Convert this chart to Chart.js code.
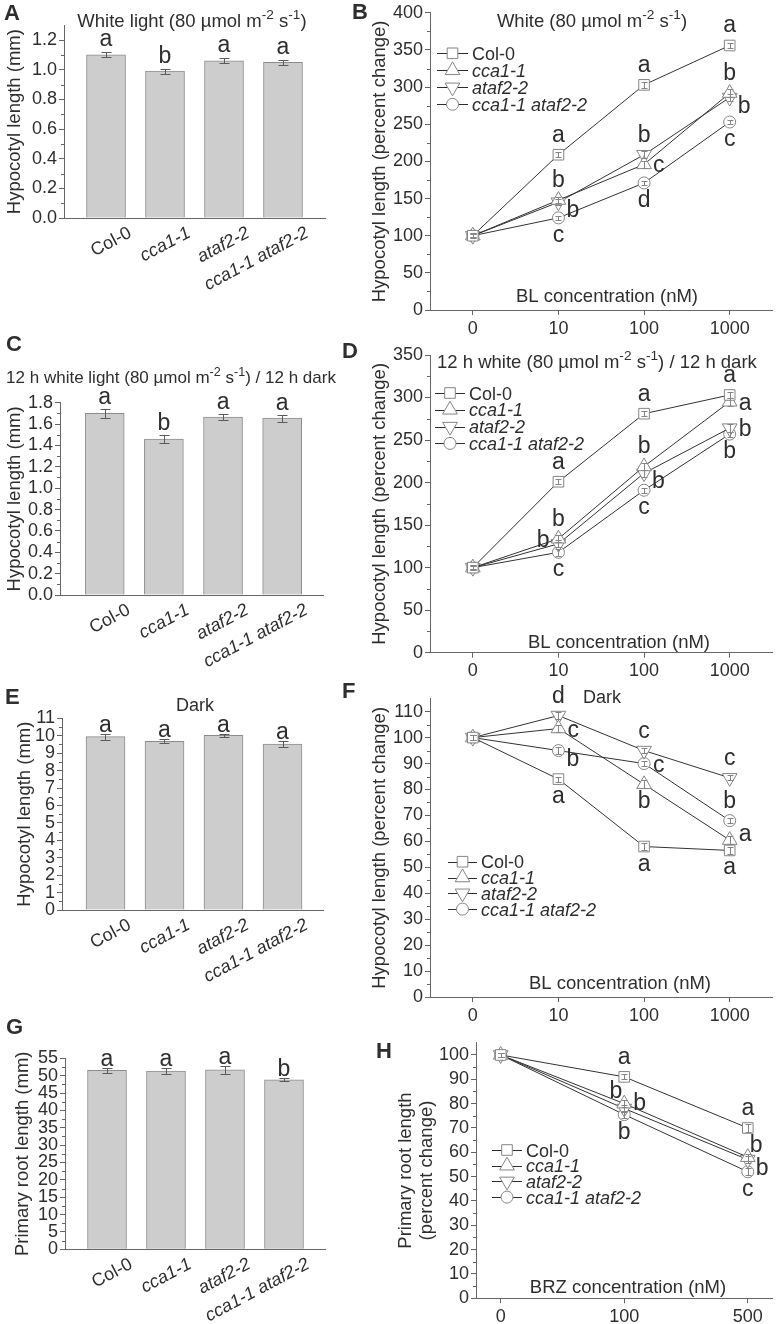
<!DOCTYPE html>
<html>
<head>
<meta charset="utf-8">
<script src="https://cdn.jsdelivr.net/npm/chart.js@4.4.1/dist/chart.umd.min.js"></script>
<style>
  html, body { margin: 0; padding: 0; background: #fff; }
  #fig { position: relative; width: 782px; height: 1324px; overflow: hidden; }
  #fig canvas { position: absolute; }
</style>
</head>
<body>
<div id="fig"></div>
<script>
/* Hypocotyl / root length panels A-H, drawn with Chart.js */

// ---- data ----
const genotypes = ['Col-0', 'cca1-1', 'ataf2-2', 'cca1-1 ataf2-2'];
const blDoses = ['0', '10', '100', '1000'];
const brzDoses = ['0', '100', '500'];

// A: white light, mm
const hypWhite = [1.10, 0.99, 1.06, 1.05];
const hypWhiteErr = [0.017, 0.016, 0.018, 0.015];
const hypWhiteSig = ['a', 'b', 'a', 'a'];
const ticksA = [0, 0.2, 0.4, 0.6, 0.8, 1.0, 1.2];
const minorA = [0.1, 0.3, 0.5, 0.7, 0.9, 1.1];

// C: 12 h light / 12 h dark, mm
const hypCycle = [1.70, 1.46, 1.665, 1.655];
const hypCycleErr = [0.042, 0.035, 0.03, 0.032];
const hypCycleSig = ['a', 'b', 'a', 'a'];
const ticksC = [0, 0.2, 0.4, 0.6, 0.8, 1.0, 1.2, 1.4, 1.6, 1.8];
const minorC = [0.1, 0.3, 0.5, 0.7, 0.9, 1.1, 1.3, 1.5, 1.7];

// E: dark, mm
const hypDark = [9.95, 9.68, 10.02, 9.52];
const hypDarkErr = [0.17, 0.12, 0.08, 0.18];
const hypDarkSig = ['a', 'a', 'a', 'a'];
const ticksE = [0, 1, 2, 3, 4, 5, 6, 7, 8, 9, 10, 11];
const minorE = [0.5, 1.5, 2.5, 3.5, 4.5, 5.5, 6.5, 7.5, 8.5, 9.5, 10.5];

// G: primary root, mm
const rootLen = [51.5, 51.3, 51.7, 48.8];
const rootLenErr = [0.7, 0.8, 1.1, 0.45];
const rootLenSig = ['a', 'a', 'a', 'b'];
const ticksG = [0, 5, 10, 15, 20, 25, 30, 35, 40, 45, 50, 55];
const minorG = [2.5, 7.5, 12.5, 17.5, 22.5, 27.5, 32.5, 37.5, 42.5, 47.5, 52.5];

// B: BL, white light (% change)
const blWhiteCol = [100, 209, 303, 356];
const blWhiteCca = [100, 148, 196, 292];
const blWhiteAtaf = [100, 145, 209, 286];
const blWhiteDbl = [100, 124, 171, 253];
const blWhiteColErr = [2, 3, 4, 4];
const blWhiteCcaErr = [3, 4, 5, 5];
const blWhiteAtafErr = [3, 4, 5, 5];
const blWhiteDblErr = [2, 3, 3, 3];
const blWhiteColSig = ['', 'a', 'a', 'a'];
const blWhiteCcaSig = ['', 'b', 'c', 'b'];
const blWhiteAtafSig = ['', 'b', 'b', 'b'];
const blWhiteDblSig = ['', 'c', 'd', 'c'];
const ticksB = [0, 50, 100, 150, 200, 250, 300, 350, 400];
const minorB = [25, 75, 125, 175, 225, 275, 325, 375];

// D: BL, 12 h light / 12 h dark (% change)
const blCycleCol = [100, 201, 281, 303];
const blCycleCca = [100, 134, 219, 295];
const blCycleAtaf = [100, 128, 211, 264];
const blCycleDbl = [100, 118, 191, 257];
const blCycleColErr = [2, 3, 3, 4];
const blCycleCcaErr = [3, 4, 4, 5];
const blCycleAtafErr = [3, 4, 4, 5];
const blCycleDblErr = [2, 4, 3, 3];
const blCycleColSig = ['', 'a', 'a', 'a'];
const blCycleCcaSig = ['', 'b', 'b', 'a'];
const blCycleAtafSig = ['', 'b', 'b', 'b'];
const blCycleDblSig = ['', 'c', 'c', 'b'];
const ticksD = [0, 50, 100, 150, 200, 250, 300, 350];
const minorD = [25, 75, 125, 175, 225, 275, 325];

// F: BL, dark (% change)
const blDarkCol = [100, 84, 58, 56.5];
const blDarkCca = [100, 103.5, 82, 60.5];
const blDarkAtaf = [100, 108.5, 95, 84.5];
const blDarkDbl = [100, 95, 90, 68];
const blDarkColErr = [1, 1, 1.5, 1.5];
const blDarkCcaErr = [1, 1.5, 1.5, 1.5];
const blDarkAtafErr = [1, 1.5, 1, 1];
const blDarkDblErr = [1, 1.2, 1, 1];
const blDarkColSig = ['', 'a', 'a', 'a'];
const blDarkCcaSig = ['', 'c', 'b', 'a'];
const blDarkAtafSig = ['', 'd', 'c', 'c'];
const blDarkDblSig = ['', 'b', 'c', 'b'];
const ticksF = [0, 10, 20, 30, 40, 50, 60, 70, 80, 90, 100, 110];
const minorF = [5, 15, 25, 35, 45, 55, 65, 75, 85, 95, 105];

// H: BRZ, primary root (% change)
const brzCol = [100, 91, 70];
const brzCca = [100, 80, 58];
const brzAtaf = [100, 78, 57];
const brzDbl = [100, 75.5, 52];
const brzColErr = [1, 1, 1.5];
const brzCcaErr = [1, 1.5, 1.5];
const brzAtafErr = [1, 1.5, 1.5];
const brzDblErr = [1, 1.5, 1.5];
const brzColSig = ['', 'a', 'a'];
const brzCcaSig = ['', 'b', 'b'];
const brzAtafSig = ['', 'b', 'b'];
const brzDblSig = ['', 'b', 'c'];
const ticksH = [0, 10, 20, 30, 40, 50, 60, 70, 80, 90, 100];
const minorH = [5, 15, 25, 35, 45, 55, 65, 75, 85, 95];

// ---- style ----
const FONT = '"Liberation Sans", Arial, Helvetica, sans-serif';
const INK = '#2e2e2e';
const AXIS = '#666666';
const MARK_LINE = '#858585';
const TICK_SIZE = 18;

Chart.defaults.font.family = FONT;
Chart.defaults.color = INK;

const MARK = [
  { style: 'rect', r: 7.5, rot: 0 },
  { style: 'triangle', r: 8.5, rot: 0 },
  { style: 'triangle', r: 8.5, rot: 180 },
  { style: 'circle', r: 6, rot: 0 }
];

// letter placement around a point: dx, dy (baseline), align
const PLACE = {
  t: [0, -13, 'center'],
  b: [0, 24, 'center'],
  r: [9, 8, 'left'],
  ur: [9, 1, 'left'],
  br: [8, 15, 'left'],
  l: [-9, 3, 'right'],
  tl: [-2, -6, 'right'],
  tr: [2, -5, 'left']
};

const sup = (s) => [s, true];
const titleA = [['White light (80 µmol m'], sup('-2'), [' s'], sup('-1'), [')']];
const titleB = [['White (80 µmol m'], sup('-2'), [' s'], sup('-1'), [')']];
const titleC = [['12 h white light (80 µmol m'], sup('-2'), [' s'], sup('-1'), [') / 12 h dark']];
const titleD = [['12 h white (80 µmol m'], sup('-2'), [' s'], sup('-1'), [') / 12 h dark']];

const HYP_MM = ['Hypocotyl length (mm)'];
const HYP_PCT = ['Hypocotyl length (percent change)'];

const fig = document.getElementById('fig');

function mountCanvas(box) {
  const c = document.createElement('canvas');
  c.width = box.w; c.height = box.h;
  c.style.left = box.x + 'px'; c.style.top = box.y + 'px';
  c.style.width = box.w + 'px'; c.style.height = box.h + 'px';
  fig.appendChild(c);
  return c.getContext('2d');
}

function font(size, italic, bold) {
  return (italic ? 'italic ' : '') + (bold ? 'bold ' : '') + size + 'px ' + FONT;
}

function rich(ctx, parts, x, y, size, align) {
  const small = size * 0.74;
  let w = 0;
  parts.forEach(([t, s]) => { ctx.font = font(s ? small : size); w += ctx.measureText(t).width; });
  let cx = align === 'center' ? x - w / 2 : x;
  ctx.textAlign = 'left';
  parts.forEach(([t, s]) => {
    ctx.font = font(s ? small : size);
    ctx.fillText(t, cx, s ? y - size * 0.42 : y);
    cx += ctx.measureText(t).width;
  });
}

function marker(ctx, m, x, y) {
  ctx.beginPath();
  if (m.style === 'rect') {
    const s = m.r * Math.SQRT1_2;
    ctx.rect(x - s, y - s, 2 * s, 2 * s);
  } else if (m.style === 'circle') {
    ctx.arc(x, y, m.r, 0, Math.PI * 2);
  } else {
    let a = m.rot * Math.PI / 180;
    ctx.moveTo(x + Math.sin(a) * m.r, y - Math.cos(a) * m.r);
    a += Math.PI * 2 / 3;
    ctx.lineTo(x + Math.sin(a) * m.r, y - Math.cos(a) * m.r);
    a += Math.PI * 2 / 3;
    ctx.lineTo(x + Math.sin(a) * m.r, y - Math.cos(a) * m.r);
    ctx.closePath();
  }
  ctx.fillStyle = '#fff';
  ctx.fill();
  ctx.strokeStyle = MARK_LINE;
  ctx.lineWidth = 1;
  ctx.stroke();
}

function errBar(ctx, x, y1, y2, half, color) {
  ctx.strokeStyle = color; ctx.lineWidth = 1;
  ctx.beginPath();
  ctx.moveTo(x, y1); ctx.lineTo(x, y2);
  ctx.moveTo(x - half, y1); ctx.lineTo(x + half, y1);
  ctx.moveTo(x - half, y2); ctx.lineTo(x + half, y2);
  ctx.stroke();
}

// ---- shared text / decorations, page coordinates ----
function decorations(p) {
  return {
    id: 'deco' + p.id,
    afterDraw(chart) {
      const ctx = chart.ctx;
      const ys = chart.scales.y;
      const X = (v) => v - p.box.x, Y = (v) => v - p.box.y;
      const left = chart.chartArea.left;
      ctx.save();

      // minor ticks
      ctx.strokeStyle = AXIS; ctx.lineWidth = 1;
      ctx.beginPath();
      p.minor.forEach((v) => {
        const y = Math.round(ys.getPixelForValue(v)) + 0.5;
        ctx.moveTo(left - 3, y); ctx.lineTo(left, y);
      });
      ctx.stroke();

      ctx.fillStyle = INK;
      ctx.textBaseline = 'alphabetic';

      // panel letter
      ctx.font = font(22, false, true);
      ctx.textAlign = 'left';
      ctx.fillText(p.id, X(p.tag[0]), Y(p.tag[1]));

      // title
      if (p.title) {
        if (p.title.parts) rich(ctx, p.title.parts, X(p.title.x), Y(p.title.y), p.title.size, p.title.align);
        else {
          ctx.font = font(p.title.size);
          ctx.textAlign = p.title.align;
          ctx.fillText(p.title.text, X(p.title.x), Y(p.title.y));
        }
      }

      // y title
      const cy = (chart.chartArea.top + chart.chartArea.bottom) / 2;
      ctx.font = font(18.5);
      ctx.textAlign = 'center';
      ctx.textBaseline = 'middle';
      p.yTitle.forEach((line, i) => {
        ctx.save();
        ctx.translate(X(p.yTitleX[i]), cy);
        ctx.rotate(-Math.PI / 2);
        ctx.fillText(line, 0, 0);
        ctx.restore();
      });
      ctx.textBaseline = 'alphabetic';

      if (p.kind === 'bar') drawBarExtras(chart, p, ctx);
      else drawLineExtras(chart, p, ctx, X, Y);
      ctx.restore();
    }
  };
}

function drawBarExtras(chart, p, ctx) {
  const xs = chart.scales.x, ys = chart.scales.y;
  const base = chart.chartArea.bottom;
  p.values.forEach((v, i) => {
    const x = xs.getPixelForValue(i);
    const top = ys.getPixelForValue(v + p.err[i]);
    errBar(ctx, Math.round(x) + 0.5, Math.round(top) + 0.5, Math.round(ys.getPixelForValue(v - p.err[i])) + 0.5, 5, '#5a5a5a');
    ctx.fillStyle = INK;
    ctx.font = font(23);
    ctx.textAlign = 'center';
    ctx.fillText(p.sig[i], x, top - p.sigGap);
  });
  // rotated category labels
  genotypes.forEach((g, i) => {
    ctx.save();
    ctx.translate(xs.getPixelForValue(i) + 20, base + 6);
    ctx.rotate(-28 * Math.PI / 180);
    ctx.font = font(18, i > 0);
    ctx.textAlign = 'right';
    ctx.textBaseline = 'top';
    ctx.fillStyle = INK;
    ctx.fillText(g, 0, 0);
    ctx.restore();
  });
}

function drawLineExtras(chart, p, ctx, X, Y) {
  const ys = chart.scales.y;
  // error bars over markers
  p.series.forEach((vals, k) => {
    const meta = chart.getDatasetMeta(k);
    vals.forEach((v, j) => {
      const pt = meta.data[j];
      errBar(ctx, Math.round(pt.x) + 0.5, Math.round(ys.getPixelForValue(v + p.err[k][j])) + 0.5,
        Math.round(ys.getPixelForValue(v - p.err[k][j])) + 0.5, 3, MARK_LINE);
    });
  });
  // significance letters
  ctx.fillStyle = INK;
  ctx.font = font(23);
  p.series.forEach((vals, k) => {
    const meta = chart.getDatasetMeta(k);
    vals.forEach((v, j) => {
      const s = p.sig[k][j];
      if (!s) return;
      const pl = PLACE[p.pos[k][j]];
      const pt = meta.data[j];
      ctx.textAlign = pl[2];
      ctx.fillText(s, pt.x + pl[0], pt.y + pl[1]);
    });
  });
  // axis title inside plot
  ctx.font = font(18.5);
  ctx.textAlign = 'center';
  ctx.fillText(p.xTitle, X(p.xTitleX), chart.chartArea.bottom - p.xTitleGap);
  // legend
  const L = p.legend;
  genotypes.forEach((g, k) => {
    const y = Y(L.y + k * L.dy);
    ctx.strokeStyle = INK; ctx.lineWidth = 1;
    ctx.beginPath();
    ctx.moveTo(X(L.x), Math.round(y) + 0.5); ctx.lineTo(X(L.x + L.len), Math.round(y) + 0.5);
    ctx.stroke();
    marker(ctx, MARK[k], X(L.x + L.len / 2), y);
    ctx.fillStyle = INK;
    ctx.font = font(18, k > 0);
    ctx.textAlign = 'left';
    ctx.fillText(g, X(L.x + L.len + 4), y + 6.5);
  });
}

function yScale(p) {
  return {
    type: 'linear', min: 0, max: p.yMax,
    afterBuildTicks: (s) => { s.ticks = p.yTicks.map((v) => ({ value: v })); },
    afterFit: (s) => { s.width = p.plot.l - p.box.x; },
    ticks: { autoSkip: false, padding: 2, color: INK, font: { size: TICK_SIZE },
      callback: (v) => (p.yDigits ? Number(v).toFixed(p.yDigits) : String(v)) },
    grid: { drawOnChartArea: false, tickLength: 5, color: AXIS },
    border: { color: AXIS }
  };
}

function baseOptions(p) {
  return {
    responsive: false, animation: false, devicePixelRatio: 1,
    layout: { padding: { left: 0, top: p.plot.t - p.box.y, right: p.box.x + p.box.w - p.plot.r, bottom: 0 } },
    plugins: { legend: { display: false }, tooltip: { enabled: false } }
  };
}

function barPanel(p) {
  p.kind = 'bar';
  const opts = baseOptions(p);
  opts.scales = {
    x: { type: 'linear', min: p.xMin, max: p.xMax, offset: false,
      afterFit: (s) => { s.height = p.box.y + p.box.h - p.plot.b; },
      ticks: { display: false }, grid: { display: false }, border: { color: AXIS } },
    y: yScale(p)
  };
  return new Chart(mountCanvas(p.box), {
    type: 'bar',
    data: { datasets: [{
      data: p.values.map((v, i) => ({ x: i, y: v })),
      backgroundColor: '#cdcdcd', borderColor: '#8c8c8c', borderWidth: 1, barThickness: 39
    }] },
    options: opts,
    plugins: [decorations(p)]
  });
}

function linePanel(p) {
  p.kind = 'line';
  const opts = baseOptions(p);
  opts.scales = {
    x: { type: 'linear', min: p.xMin, max: p.xMax, offset: false,
      afterBuildTicks: (s) => { s.ticks = p.xLabels.map((_, i) => ({ value: i })); },
      afterFit: (s) => { s.height = p.box.y + p.box.h - p.plot.b; },
      ticks: { autoSkip: false, maxRotation: 0, minRotation: 0, padding: 3, color: INK, font: { size: TICK_SIZE },
        callback: (v) => p.xLabels[Math.round(v)] },
      grid: { drawOnChartArea: false, tickLength: 5, color: AXIS },
      border: { color: AXIS } },
    y: yScale(p)
  };
  return new Chart(mountCanvas(p.box), {
    type: 'line',
    data: { datasets: p.series.map((vals, k) => ({
      label: genotypes[k],
      data: vals.map((v, i) => ({ x: i, y: v })),
      borderColor: '#333', borderWidth: 1, fill: false, tension: 0, clip: false,
      pointStyle: MARK[k].style, pointRadius: MARK[k].r, pointRotation: MARK[k].rot,
      pointBackgroundColor: '#fff', pointBorderColor: MARK_LINE, pointBorderWidth: 1
    })) },
    options: opts,
    plugins: [decorations(p)]
  });
}

// ---- bar panels ----
barPanel({
  id: 'A', box: { x: 0, y: 0, w: 340, h: 336 }, plot: { l: 64, t: 25.2, r: 325, b: 218 },
  yMax: 1.3, yTicks: ticksA, minor: minorA, yDigits: 1, xMin: -0.712, xMax: 3.712,
  values: hypWhite, err: hypWhiteErr, sig: hypWhiteSig, sigGap: 6,
  tag: [4, 20], title: { parts: titleA, x: 192, y: 27, size: 18.5, align: 'center' },
  yTitle: HYP_MM, yTitleX: [15]
});

barPanel({
  id: 'C', box: { x: 0, y: 336, w: 340, h: 342 }, plot: { l: 60, t: 402.7, r: 323, b: 595 },
  yMax: 1.8, yTicks: ticksC, minor: minorC, yDigits: 1, xMin: -0.756, xMax: 3.69,
  values: hypCycle, err: hypCycleErr, sig: hypCycleSig, sigGap: 5,
  tag: [6, 351], title: { parts: titleC, x: 171, y: 383, size: 17, align: 'center' },
  yTitle: HYP_MM, yTitleX: [15]
});

barPanel({
  id: 'E', box: { x: 0, y: 678, w: 340, h: 327 }, plot: { l: 62, t: 718.3, r: 323, b: 910 },
  yMax: 11, yTicks: ticksE, minor: minorE, yDigits: 0, xMin: -0.737, xMax: 3.686,
  values: hypDark, err: hypDarkErr, sig: hypDarkSig, sigGap: 2,
  tag: [5, 704], title: { text: 'Dark', x: 195, y: 711, size: 18, align: 'center' },
  yTitle: HYP_MM, yTitleX: [25]
});

barPanel({
  id: 'G', box: { x: 0, y: 1005, w: 340, h: 319 }, plot: { l: 65, t: 1058.3, r: 325, b: 1249.3 },
  yMax: 55, yTicks: ticksG, minor: minorG, yDigits: 0, xMin: -0.712, xMax: 3.695,
  values: rootLen, err: rootLenErr, sig: rootLenSig, sigGap: 2,
  tag: [6, 1034], title: null,
  yTitle: ['Primary root length (mm)'], yTitleX: [23]
});

// ---- dose-response panels ----
linePanel({
  id: 'B', box: { x: 340, y: 0, w: 442, h: 340 }, plot: { l: 430, t: 12, r: 777, b: 310 },
  yMax: 400, yTicks: ticksB, minor: minorB, yDigits: 0, xMin: -0.5, xMax: 3.5, xLabels: blDoses,
  series: [blWhiteCol, blWhiteCca, blWhiteAtaf, blWhiteDbl],
  err: [blWhiteColErr, blWhiteCcaErr, blWhiteAtafErr, blWhiteDblErr],
  sig: [blWhiteColSig, blWhiteCcaSig, blWhiteAtafSig, blWhiteDblSig],
  pos: [['', 't', 't', 't'], ['', 't', 'r', 't'], ['', 'br', 't', 'br'], ['', 'b', 'b', 'b']],
  tag: [352, 19], title: { parts: titleB, x: 592, y: 27, size: 18.5, align: 'center' },
  yTitle: HYP_PCT, yTitleX: [380],
  xTitle: 'BL concentration (nM)', xTitleX: 607, xTitleGap: 8,
  legend: { x: 437, y: 53.3, dy: 17, len: 31 }
});

linePanel({
  id: 'D', box: { x: 340, y: 340, w: 442, h: 338 }, plot: { l: 430, t: 355, r: 777, b: 652.7 },
  yMax: 350, yTicks: ticksD, minor: minorD, yDigits: 0, xMin: -0.5, xMax: 3.5, xLabels: blDoses,
  series: [blCycleCol, blCycleCca, blCycleAtaf, blCycleDbl],
  err: [blCycleColErr, blCycleCcaErr, blCycleAtafErr, blCycleDblErr],
  sig: [blCycleColSig, blCycleCcaSig, blCycleAtafSig, blCycleDblSig],
  pos: [['', 't', 't', 't'], ['', 't', 't', 'r'], ['', 'l', 'br', 'r'], ['', 'b', 'b', 'b']],
  tag: [342, 358], title: { parts: titleD, x: 437, y: 368, size: 18.5, align: 'left' },
  yTitle: HYP_PCT, yTitleX: [380],
  xTitle: 'BL concentration (nM)', xTitleX: 619, xTitleGap: 5,
  legend: { x: 435, y: 393, dy: 16.8, len: 30 }
});

linePanel({
  id: 'F', box: { x: 340, y: 678, w: 442, h: 352 }, plot: { l: 430, t: 698.7, r: 777, b: 997 },
  yMax: 115, yTicks: ticksF, minor: minorF, yDigits: 0, xMin: -0.5, xMax: 3.5, xLabels: blDoses,
  series: [blDarkCol, blDarkCca, blDarkAtaf, blDarkDbl],
  err: [blDarkColErr, blDarkCcaErr, blDarkAtafErr, blDarkDblErr],
  sig: [blDarkColSig, blDarkCcaSig, blDarkAtafSig, blDarkDblSig],
  pos: [['', 'b', 'b', 'b'], ['', 'r', 'b', 'ur'], ['', 't', 't', 't'], ['', 'br', 'r', 't']],
  tag: [342, 698], title: { text: 'Dark', x: 583, y: 703, size: 18, align: 'left' },
  yTitle: HYP_PCT, yTitleX: [380],
  xTitle: 'BL concentration (nM)', xTitleX: 620, xTitleGap: 8,
  legend: { x: 448, y: 861.7, dy: 15.8, len: 29 }
});

linePanel({
  id: 'H', box: { x: 340, y: 1030, w: 442, h: 294 }, plot: { l: 476, t: 1042.7, r: 780, b: 1298.3 },
  yMax: 105, yTicks: ticksH, minor: minorH, yDigits: 0, xMin: -0.2, xMax: 2.2, xLabels: brzDoses,
  series: [brzCol, brzCca, brzAtaf, brzDbl],
  err: [brzColErr, brzCcaErr, brzAtafErr, brzDblErr],
  sig: [brzColSig, brzCcaSig, brzAtafSig, brzDblSig],
  pos: [['', 't', 't'], ['', 'tl', 'tr'], ['', 'ur', 'br'], ['', 'b', 'b']],
  tag: [376, 1058], title: null,
  yTitle: ['Primary root length', '(percent change)'], yTitleX: [406, 427],
  xTitle: 'BRZ concentration (nM)', xTitleX: 628, xTitleGap: 5,
  legend: { x: 492, y: 1150, dy: 15.7, len: 30 }
});
</script>
</body>
</html>
